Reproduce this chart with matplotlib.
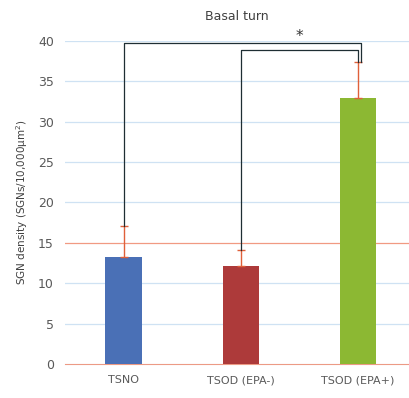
"""Basal turn SGN density bar chart with significance brackets."""
import matplotlib; matplotlib.use("Agg")
import matplotlib.pyplot as plt

categories = ["TSNO", "TSOD (EPA-)", "TSOD (EPA+)"]
means = [13.2, 12.1, 33.0]
err_up = [3.9, 2.0, 4.4]
bar_colors = ["#4a70b6", "#ad3a3a", "#8cb833"]
yticks = [0, 5, 10, 15, 20, 25, 30, 35, 40]

plt.rcParams.update({"font.family": "DejaVu Sans", "font.size": 8})
fig = plt.figure(figsize=(4.09, 3.98), dpi=100)
ax = fig.add_axes([65 / 409, 34 / 398, (409 - 65) / 409, 323 / 398])

x = list(range(len(categories)))
ax.bar(x, means, width=0.31, color=bar_colors, zorder=3)
ax.errorbar(x, means, yerr=[[0] * 3, err_up], fmt="none", ecolor="#e0603a",
            elinewidth=1.0, capsize=3, capthick=1.0, zorder=4)

ax.set_xlim(-0.5, 2.436)
ax.set_ylim(0, 40)
ax.set_yticks(yticks)
ax.set_xticks(x)
ax.set_xticklabels(categories)
for s in ["top", "right", "left"]:
    ax.spines[s].set_visible(False)
ax.spines["bottom"].set_color("#ec9a85")
ax.tick_params(length=0, colors="#595959", labelsize=8)
ax.tick_params(axis="y", labelsize=9, pad=8)
ax.tick_params(axis="x", pad=8)
for t in yticks[1:]:
    ax.axhline(t, color="#f19a82" if t == 15 else "#cfe2f3", lw=0.9, zorder=1)

# significance brackets
tops = [m + e for m, e in zip(means, err_up)]
line = dict(color="#1e2e33", lw=0.9, clip_on=False, zorder=5)
ax.plot([0, 0, 2.03, 2.03], [tops[0], 39.7, 39.7, tops[2]], **line)
ax.plot([1, 1, 2.0, 2.0], [tops[1], 38.9, 38.9, tops[2]], **line)
ax.text(1.5, 39.6, "*", ha="center", va="bottom", fontsize=11, color="#333333")

ax.set_title("Basal turn", fontsize=9, color="#404040", pad=15)
ax.set_ylabel("SGN density (SGNs/10,000\u03bcm$^2$)", fontsize=7.5, color="#404040", labelpad=6)

fig.savefig("out.png", dpi=100)
